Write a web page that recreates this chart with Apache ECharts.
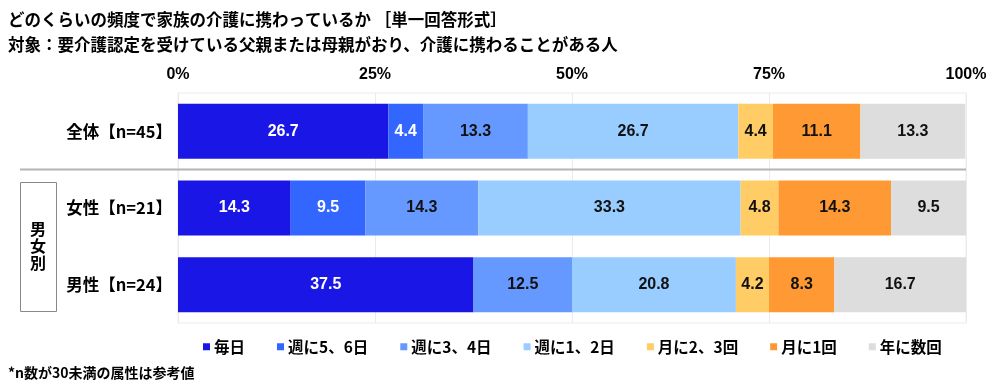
<!DOCTYPE html>
<html>
<head>
<meta charset="utf-8">
<script src="https://cdn.jsdelivr.net/npm/echarts@6/dist/echarts.min.js"></script>
<style>
html,body{margin:0;padding:0;background:#fff;}
#chart{width:1000px;height:388px;}
</style>
</head>
<body>
<div id="chart"></div>
<script>
const categories = ['全体【n=45】', '女性【n=21】', '男性【n=24】'];
const seriesNames = ['毎日', '週に5、6日', '週に3、4日', '週に1、2日', '月に2、3回', '月に1回', '年に数回'];
const everyDay = [26.7, 14.3, 37.5];
const week56 = [4.4, 9.5, 0];
const week34 = [13.3, 14.3, 12.5];
const week12 = [26.7, 33.3, 20.8];
const month23 = [4.4, 4.8, 4.2];
const month1 = [11.1, 14.3, 8.3];
const yearFew = [13.3, 9.5, 16.7];
const tickLabels = ['0%', '25%', '50%', '75%', '100%'];

const allValues = [everyDay, week56, week34, week12, month23, month1, yearFew];
const colors = ['#1a17e6', '#3366ff', '#6699ff', '#99ccff', '#ffcc66', '#ff9933', '#dddddd'];
const labelColors = ['#ffffff', '#ffffff', '#111111', '#111111', '#111111', '#111111', '#111111'];
const numFont = "'Liberation Sans','Noto Sans CJK JP',sans-serif";
const jpFont = "'Noto Sans CJK JP','Liberation Sans',sans-serif";

const chart = echarts.init(document.getElementById('chart'), null, {renderer: 'canvas'});

const series = seriesNames.map((name, i) => ({
  name: name,
  type: 'bar',
  stack: 'total',
  barWidth: 55,
  data: allValues[i],
  itemStyle: {color: colors[i]},
  label: {
    show: true,
    position: 'inside',
    color: labelColors[i],
    fontSize: 16,
    fontWeight: 'bold',
    fontFamily: numFont,
    formatter: p => (p.value > 0 ? p.value.toFixed(1) : '')
  },
  emphasis: {disabled: true}
}));

chart.setOption({
  animation: false,
  backgroundColor: '#ffffff',
  title: [
    {
      text: 'どのくらいの頻度で家族の介護に携わっているか ［単一回答形式］',
      left: 3, top: 6,
      textStyle: {fontSize: 16.5, fontWeight: 'bold', color: '#000', fontFamily: jpFont}
    },
    {
      text: '対象：要介護認定を受けている父親または母親がおり、介護に携わることがある人',
      left: 3, top: 31,
      textStyle: {fontSize: 16.5, fontWeight: 'bold', color: '#000', fontFamily: jpFont}
    },
    {
      text: '*n数が30未満の属性は参考値',
      left: 3, top: 361,
      textStyle: {fontSize: 14, fontWeight: 'bold', color: '#000', fontFamily: jpFont}
    }
  ],
  grid: {left: 178, right: 34, top: 93, bottom: 65, show: true, borderColor: '#ebebeb', borderWidth: 1},
  xAxis: {
    type: 'value',
    position: 'top',
    min: 0, max: 100, interval: 25,
    axisLine: {show: false},
    axisTick: {show: false},
    splitLine: {show: true, lineStyle: {color: '#ebebeb', width: 1}},
    axisLabel: {
      margin: 10,
      fontSize: 16, fontWeight: 'bold', color: '#000', fontFamily: numFont,
      formatter: v => tickLabels[Math.round(v / 25)]
    }
  },
  yAxis: {
    type: 'category',
    data: categories,
    inverse: true,
    axisLine: {show: false},
    axisTick: {show: false},
    axisLabel: {margin: 6, fontSize: 16.5, fontWeight: 'bold', color: '#000', fontFamily: jpFont}
  },
  legend: {
    data: seriesNames,
    left: 198, top: 334,
    icon: 'rect',
    itemWidth: 7, itemHeight: 7,
    itemGap: 32,
    textStyle: {fontSize: 15.5, fontWeight: 'bold', color: '#000', fontFamily: jpFont, padding: [0, 0, 0, -1]},
    selectedMode: false
  },
  graphic: [
    {type: 'line', shape: {x1: 20, y1: 169.5, x2: 966, y2: 169.5}, style: {stroke: '#b4b4b4', lineWidth: 2}, z: 10},
    {type: 'rect', shape: {x: 20.5, y: 182.5, width: 36, height: 129}, style: {fill: '#fff', stroke: '#888', lineWidth: 1}},
    {type: 'text', x: 38, y: 246, style: {text: '男\n女\n別', fill: '#000', font: "bold 16px 'Noto Sans CJK JP'", align: 'center', verticalAlign: 'middle', lineHeight: 17}}
  ],
  series: series
});
</script>
</body>
</html>
